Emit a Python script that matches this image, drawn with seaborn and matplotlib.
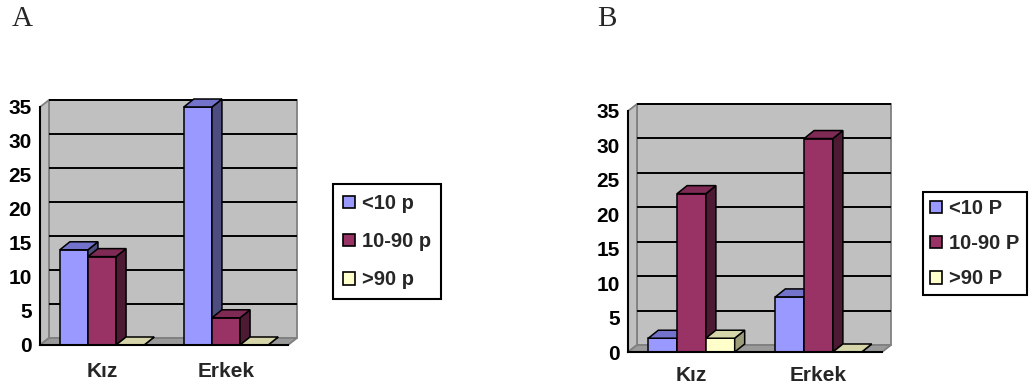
import numpy as np
import pandas as pd
import matplotlib
matplotlib.use("Agg")
import matplotlib.pyplot as plt
from matplotlib.patches import Polygon, Patch
import seaborn as sns

# ---- data ----
categories = ["Kız", "Erkek"]

labels_a = ["<10 p", "10-90 p", ">90 p"]
a_low = [14, 35]
a_mid = [13, 4]
a_high = [0, 0]

labels_b = ["<10 P", "10-90 P", ">90 P"]
b_low = [2, 8]
b_mid = [23, 31]
b_high = [2, 0]

y_ticks = [0, 5, 10, 15, 20, 25, 30, 35]

# ---- styling ----
front_cols = ["#9999FF", "#993366", "#FFFFCC"]
top_cols = ["#7373CC", "#7E2A55", "#D6D6AA"]
side_cols = ["#4D4D80", "#4D1A33", "#9C9C7A"]
WALL = "#C0C0C0"
FLOOR = "#9A9A9A"
EDGE_GRAY = "#808080"

FIG_W, FIG_H = 1030, 385
TICK_FS = 15

sns.set_style("white")
plt.rcParams["font.family"] = ["Liberation Sans", "DejaVu Sans"]
plt.rcParams["font.weight"] = "bold"

fig = plt.figure(figsize=(FIG_W / 100, FIG_H / 100), dpi=100)


def px_box(left, right, bottom, top):
    """Axes rectangle from pixel edges (top-origin y)."""
    return [left / FIG_W, (FIG_H - bottom) / FIG_H,
            (right - left) / FIG_W, (bottom - top) / FIG_H]


def draw_panel(ax, labels, series, wall_px, bar_px, label_pad):
    df = pd.DataFrame({
        "cat": np.tile(categories, len(labels)),
        "grp": np.repeat(labels, len(categories)),
        "val": np.concatenate(series),
    })
    sns.barplot(data=df, x="cat", y="val", hue="grp", order=categories,
                hue_order=labels, palette=front_cols, saturation=1,
                width=0.68, edgecolor="black", linewidth=1.1,
                legend=False, ax=ax)
    ax.set_xlim(-0.5, len(categories) - 0.5)
    ax.set_ylim(0, 35)
    ax.set_xlabel("")
    ax.set_ylabel("")
    ax.patch.set_visible(False)

    # pixel -> data conversions for the depth offsets
    bb = ax.get_position()
    ux = (ax.get_xlim()[1] - ax.get_xlim()[0]) / (bb.width * FIG_W)
    uy = (ax.get_ylim()[1] - ax.get_ylim()[0]) / (bb.height * FIG_H)
    wdx, wdy = wall_px[0] * ux, wall_px[1] * uy
    bdx, bdy = bar_px[0] * ux, bar_px[1] * uy

    x0, x1 = ax.get_xlim()
    y0, y1 = ax.get_ylim()

    # walls and floor
    left_wall = [(x0, y0), (x0, y1), (x0 + wdx, y1 + wdy), (x0 + wdx, y0 + wdy)]
    back_wall = [(x0 + wdx, y0 + wdy), (x0 + wdx, y1 + wdy),
                 (x1 + wdx, y1 + wdy), (x1 + wdx, y0 + wdy)]
    floor = [(x0, y0), (x1, y0), (x1 + wdx, y0 + wdy), (x0 + wdx, y0 + wdy)]
    for pts, fc, z in [(back_wall, WALL, 0.2), (left_wall, WALL, 0.3),
                       (floor, FLOOR, 0.4)]:
        ax.add_patch(Polygon(pts, closed=True, facecolor=fc,
                             edgecolor=EDGE_GRAY, linewidth=1.3,
                             zorder=z, clip_on=False))
    for t in y_ticks[1:]:
        ax.plot([x0 + wdx, x1 + wdx], [t + wdy, t + wdy], color="black",
                linewidth=1.4, zorder=0.5, clip_on=False,
                solid_capstyle="butt")

    # extrude every bar: top face and right side face
    rects = []
    for gi, cont in enumerate(ax.containers):
        for r in cont:
            rects.append((r.get_x(), gi, r))
    rects.sort(key=lambda t: t[0])
    for k, (_, gi, r) in enumerate(rects):
        z = 3 + k * 0.1
        bx, bw, bh = r.get_x(), r.get_width(), r.get_height()
        r.set_zorder(z)
        r.set_clip_on(False)
        top = [(bx, bh), (bx + bw, bh), (bx + bw + bdx, bh + bdy), (bx + bdx, bh + bdy)]
        side = [(bx + bw, 0), (bx + bw, bh), (bx + bw + bdx, bh + bdy), (bx + bw + bdx, bdy)]
        ax.add_patch(Polygon(side, closed=True, facecolor=side_cols[gi],
                             edgecolor="black", linewidth=1.1, zorder=z,
                             clip_on=False))
        ax.add_patch(Polygon(top, closed=True, facecolor=top_cols[gi],
                             edgecolor="black", linewidth=1.1, zorder=z,
                             clip_on=False))

    # axes lines and ticks
    for s in ["top", "right"]:
        ax.spines[s].set_visible(False)
    for s in ["left", "bottom"]:
        ax.spines[s].set_color("black")
        ax.spines[s].set_linewidth(1.5)
        ax.spines[s].set_zorder(10)
    ax.set_yticks(y_ticks)
    ax.set_yticklabels([str(t) for t in y_ticks], fontsize=TICK_FS,
                       fontweight="bold")
    ax.tick_params(axis="y", direction="out", length=4, width=1.3,
                   pad=2, colors="black")
    ax.set_xticks(range(len(categories)))
    ax.set_xticklabels(categories, fontsize=TICK_FS, fontweight="bold")
    ax.tick_params(axis="x", which="major", length=0, pad=label_pad)
    ax.set_xticks([x0, 0.5, x1], minor=True)
    ax.tick_params(axis="x", which="minor", direction="out", length=5,
                   width=1.3, colors="black")
    ax.grid(False)


def add_legend(labels, anchor, fontsize, spacing, pad):
    handles = [Patch(facecolor=c, edgecolor="black", linewidth=1.2)
               for c in front_cols]
    leg = fig.legend(handles, labels, loc="upper left",
                     bbox_to_anchor=anchor, bbox_transform=fig.transFigure,
                     frameon=True, fancybox=False, edgecolor="black",
                     framealpha=1, borderpad=pad, borderaxespad=0,
                     handlelength=0.6, handleheight=0.6,
                     handletextpad=0.35, labelspacing=spacing,
                     prop={"weight": "bold", "size": fontsize})
    leg.get_frame().set_linewidth(1.5)
    return leg


# ---- panel A ----
ax_a = fig.add_axes(px_box(40, 288, 345, 107))
draw_panel(ax_a, labels_a, [a_low, a_mid, a_high],
           wall_px=(9, 7), bar_px=(10, 8), label_pad=12)
add_legend(labels_a, (333 / FIG_W, 1 - 184 / FIG_H), 14.5, 0.95, 0.5)

# ---- panel B ----
ax_b = fig.add_axes(px_box(628, 882, 352, 111))
draw_panel(ax_b, labels_b, [b_low, b_mid, b_high],
           wall_px=(9, 7), bar_px=(10, 8), label_pad=10)
add_legend(labels_b, (923 / FIG_W, 1 - 192 / FIG_H), 14.5, 0.8, 0.35)

# panel letters
fig.text(12 / FIG_W, 1 - 6 / FIG_H, "A", ha="left", va="top",
         family="Liberation Serif", fontweight="normal", fontsize=21)
fig.text(597 / FIG_W, 1 - 6 / FIG_H, "B", ha="left", va="top",
         family="Liberation Serif", fontweight="normal", fontsize=21)

fig.savefig("out.png", dpi=100, facecolor="white")
